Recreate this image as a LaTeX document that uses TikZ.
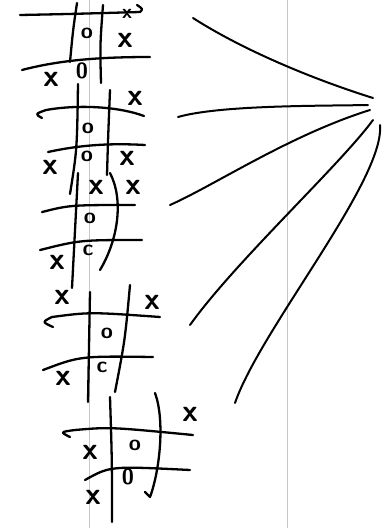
\documentclass[tikz,border=0pt]{standalone}
\usepackage{tikz}

\begin{document}
\begin{tikzpicture}[x=1pt,y=-1pt,
  pen/.style={line width=2.3pt,line cap=round,line join=round},
  fan/.style={line width=2pt,line cap=round},
  rule/.style={black!22,line width=0.8pt},
  xmark/.style={inner sep=0pt,font=\sffamily\bfseries\fontsize{31}{31}\selectfont},
  omark/.style={inner sep=0pt,font=\sffamily\bfseries\fontsize{22}{22}\selectfont}]
  \useasboundingbox (0,0) rectangle (391,528);
  \clip (0,0) rectangle (391,528);
  \draw[rule] (89,0) -- (89,528); \draw[rule] (287,0) -- (287,528);
  % board 1
  \draw[pen] (20,15) .. controls (70,14) .. (140,12) .. controls (143,9) .. (137,5);
  \draw[pen] (22,70) .. controls (60,60) and (100,57) .. (150,57);
  \draw[pen] (77,3) .. controls (73,30) .. (70,62); \draw[pen] (103,5) .. controls (100,45) .. (101,83);
  \node[xmark,font=\sffamily\bfseries\fontsize{20}{20}\selectfont] (b1x1) at (127,14) {x};
  \node[xmark] (b1x2) at (125,40) {x}; \node[xmark] (b1x3) at (51,79) {x};
  \node[omark] (b1o1) at (87,33) {o}; \node[omark] (b1o2) at (82,71) {0};
  % board 2
  \draw[pen] (42,118) .. controls (35,114) .. (46,110) .. controls (80,104) and (120,107) .. (144,116);
  \draw[pen] (48,152) .. controls (80,145) and (110,143) .. (145,145);
  \draw[pen] (78,84) .. controls (77,150) .. (70,194); \draw[pen] (110,90) .. controls (108,140) .. (107,175);
  \node[xmark] (b2x1) at (135,98) {x}; \node[xmark] (b2x2) at (127,158) {x}; \node[xmark] (b2x3) at (50,167) {x};
  \node[omark] (b2o1) at (88,128) {o}; \node[omark] (b2o2) at (87,156) {o};
  % board 3
  \draw[pen] (42,212) .. controls (70,205) .. (135,205);
  \draw[pen] (40,250) .. controls (80,240) .. (142,240);
  \draw[pen] (78,173) .. controls (75,230) .. (72,288);
  \draw[pen] (110,173) .. controls (124,200) and (118,240) .. (100,270);
  \node[xmark] (b3x1) at (96,187) {x}; \node[xmark] (b3x2) at (133,187) {x}; \node[xmark] (b3x3) at (57,262) {x};
  \node[omark] (b3o1) at (90,218) {o}; \node[omark] (b3o2) at (88,250) {c};
  % board 4
  \draw[pen] (53,327) .. controls (42,322) .. (52,317) .. controls (90,312) .. (160,317);
  \draw[pen] (43,370) .. controls (80,356) .. (153,357);
  \draw[pen] (90,292) -- (88,402); \draw[pen] (130,285) .. controls (125,340) .. (115,392);
  \node[xmark] (b4x1) at (62,297) {x}; \node[xmark] (b4x2) at (152,302) {x}; \node[xmark] (b4x3) at (63,378) {x};
  \node[omark] (b4o1) at (107,333) {o}; \node[omark] (b4o2) at (102,367) {c};
  % board 5
  \draw[pen] (70,437) .. controls (60,432) .. (75,430) .. controls (110,427) .. (193,435);
  \draw[pen] (85,480) .. controls (110,466) .. (190,470);
  \draw[pen] (110,397) .. controls (112,460) .. (112,522);
  \draw[pen] (155,393) .. controls (165,420) and (160,470) .. (150,497) -- (145,492);
  \node[xmark] (b5x1) at (190,414) {x}; \node[xmark] (b5x2) at (90,452) {x}; \node[xmark] (b5x3) at (93,497) {x};
  \node[omark] (b5o1) at (135,445) {o}; \node[omark] (b5o2) at (128,477) {0};
  % fan
  \coordinate (s1) at (193,18); \coordinate (s2) at (178,117); \coordinate (s3) at (170,205);
  \coordinate (s4) at (190,325); \coordinate (s5) at (235,403);
  \coordinate (h1) at (373,98); \coordinate (h2) at (368,105); \coordinate (h3) at (370,110);
  \coordinate (h4) at (373,120); \coordinate (h5) at (380,125);
  \draw[fan] (s1) .. controls (235,45) and (300,75) .. (h1);
  \draw[fan] (s2) .. controls (220,105) and (320,106) .. (h2);
  \draw[fan] (s3) .. controls (215,185) and (290,135) .. (h3);
  \draw[fan] (s4) .. controls (235,262) and (340,165) .. (h4);
  \draw[fan] (s5) .. controls (260,330) and (385,180) .. (h5);
\end{tikzpicture}
\end{document}
